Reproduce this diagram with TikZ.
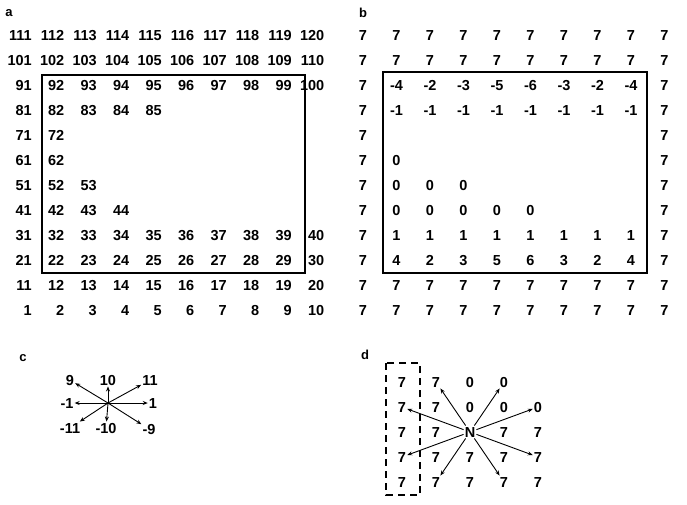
\documentclass[tikz,border=0pt]{standalone}
\usepackage{fontspec}
\setmainfont{Liberation Sans}
\usetikzlibrary{arrows.meta}
\newcommand\brow[2]{\foreach \c/\v in {#2}{\node[bnum] (b-#1-\c) at ({363+33.5*(\c-1)},{35+25*(#1-1)}) {\v};}}
\begin{document}
\begin{tikzpicture}[x=1pt,y=-1pt,
  txt/.style={font=\fontsize{14.5}{14.5}\selectfont\bfseries, inner sep=1pt, text height=10.5pt, text depth=0pt},
  anum/.style={txt, anchor=east},
  bnum/.style={txt},
  dnum/.style={txt},
  cnum/.style={txt},
  plab/.style={font=\fontsize{13}{13}\selectfont\bfseries, inner sep=0pt},
  frame/.style={line width=1.6pt},
  dframe/.style={line width=1.8pt, dash pattern=on 7pt off 5pt},
  arr/.style={line width=0.9pt, -{Stealth[length=5pt,width=4pt]}}]
\useasboundingbox (0,0) rectangle (687,504);
% ---------- panel a ----------
\node[plab] (la) at (9,13) {a};
\foreach \r/\m in {1/10,2/10,3/10,4/5,5/2,6/2,7/3,8/4,9/10,10/10,11/10,12/10}{
  \foreach \c in {1,...,\m}{
    \pgfmathtruncatemacro{\v}{(12-\r)*10+\c}
    \node[anum] (a-\r-\c) at ({33+32.5*(\c-1)},{35+25*(\r-1)}) {\v};
  }
}
\draw[frame] (42,75) rectangle (305,273);
% ---------- panel b ----------
\node[plab] (lb) at (363,13) {b};
\foreach \r in {1,2,11,12}{
  \brow{\r}{1/7,2/7,3/7,4/7,5/7,6/7,7/7,8/7,9/7,10/7}
}
\brow{3}{1/7,2/-4,3/-2,4/-3,5/-5,6/-6,7/-3,8/-2,9/-4,10/7}
\brow{4}{1/7,2/-1,3/-1,4/-1,5/-1,6/-1,7/-1,8/-1,9/-1,10/7}
\brow{5}{1/7,10/7}
\brow{6}{1/7,2/0,10/7}
\brow{7}{1/7,2/0,3/0,4/0,10/7}
\brow{8}{1/7,2/0,3/0,4/0,5/0,6/0,10/7}
\brow{9}{1/7,2/1,3/1,4/1,5/1,6/1,7/1,8/1,9/1,10/7}
\brow{10}{1/7,2/4,3/2,4/3,5/5,6/6,7/3,8/2,9/4,10/7}
\draw[frame] (383,72) rectangle (647,273);
% ---------- panel c ----------
\node[plab] (lc) at (23,358) {c};
\coordinate (c0) at (108,403);
\node[cnum] (c9) at (70,380) {9};
\node[cnum] (c10) at (108,380) {10};
\node[cnum] (c11) at (150,380) {11};
\node[cnum] (cm1) at (67,403) {-1};
\node[cnum] (c1) at (153,403) {1};
\node[cnum] (cm11) at (70,428) {-11};
\node[cnum] (cm10) at (106,428) {-10};
\node[cnum] (cm9) at (149,429) {-9};
\foreach \t in {c9,c10,c11,cm1,c1,cm11,cm10,cm9}{
  \draw[arr] (c0) -- (\t);
}
% ---------- panel d ----------
\node[plab] (ld) at (365,355) {d};
\foreach \r/\row in {1/{1/7,2/7,3/0,4/0},2/{1/7,2/7,3/0,4/0,5/0},3/{1/7,2/7,4/7,5/7},4/{1/7,2/7,3/7,4/7,5/7},5/{1/7,2/7,3/7,4/7,5/7}}{
  \foreach \c/\v in \row{
    \node[dnum] (d-\r-\c) at ({402+34*(\c-1)},{382+25*(\r-1)}) {\v};
  }
}
\node[dnum] (d-3-3) at (470,432) {N};
\foreach \t in {d-1-2,d-1-4,d-2-1,d-2-5,d-4-1,d-4-5,d-5-2,d-5-4}{
  \draw[arr] (d-3-3) -- (\t);
}
\draw[dframe] (386,363) rectangle (420,495);
\end{tikzpicture}
\end{document}
